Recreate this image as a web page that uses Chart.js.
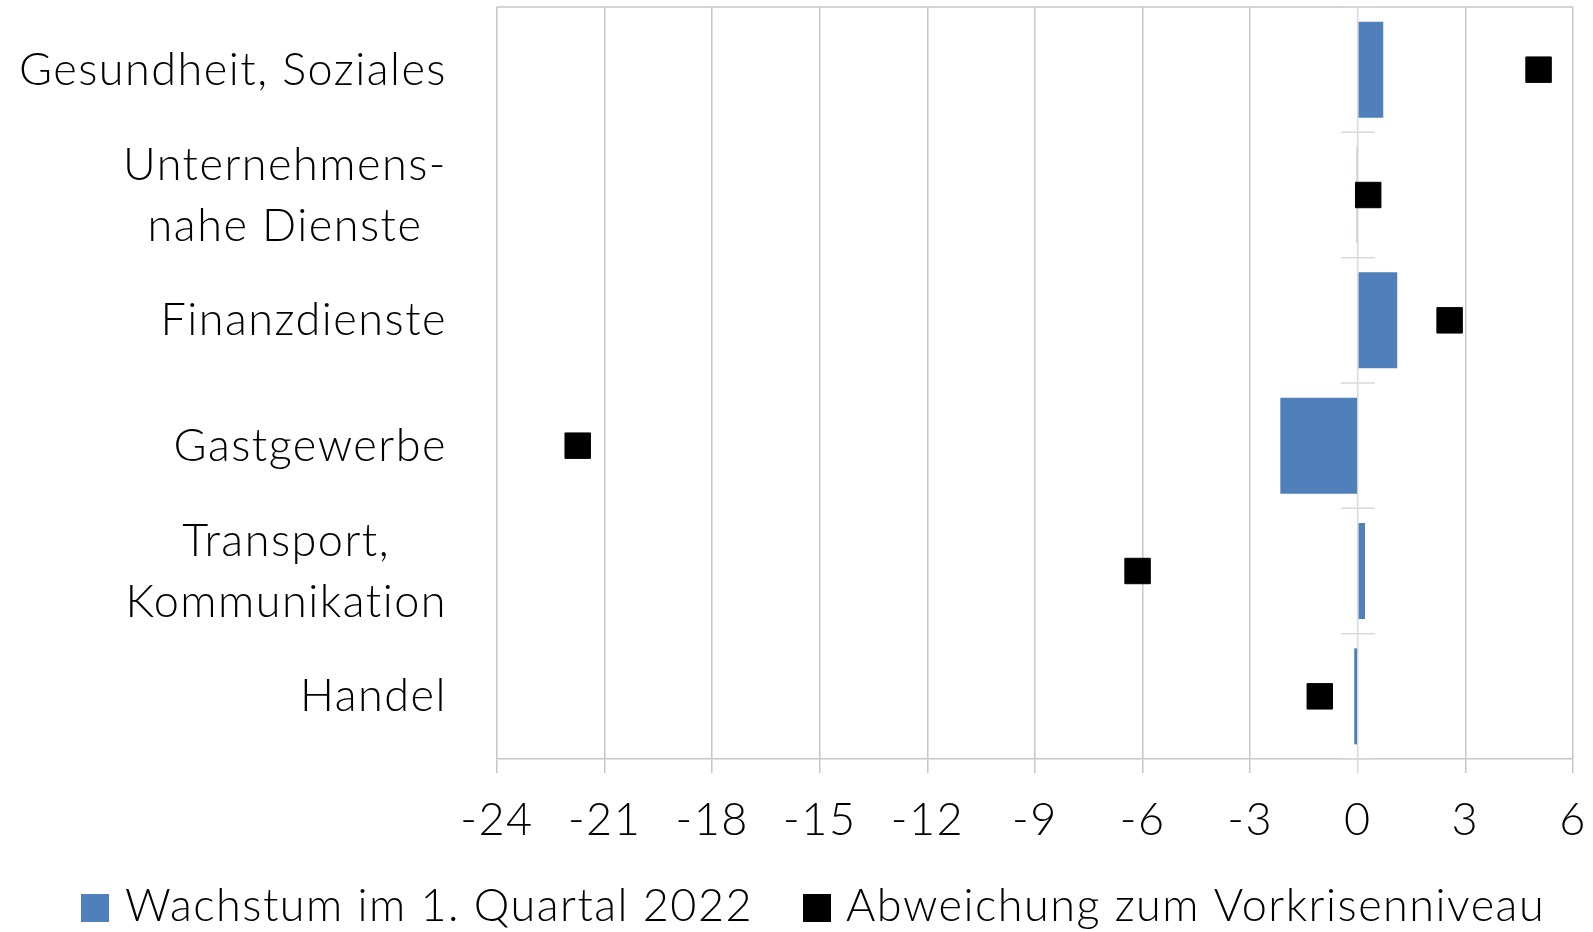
<!DOCTYPE html>
<html>
<head>
<meta charset="utf-8">
<script src="https://cdn.jsdelivr.net/npm/chart.js@4/dist/chart.umd.min.js"></script>
<style>
  html, body { margin: 0; padding: 0; background: #ffffff; }
  #wrap { width: 1593px; height: 932px; position: relative; }
</style>
</head>
<body>
<div id="wrap"><canvas id="c" width="1593" height="932"></canvas></div>
<script>
// ---- data ----
const categories = [
  'Gesundheit, Soziales',
  ['Unternehmens-', 'nahe Dienste'],
  'Finanzdienste',
  'Gastgewerbe',
  ['Transport,', 'Kommunikation'],
  'Handel'
];
const growthQ1 = [0.71, -0.03, 1.10, -2.16, 0.20, -0.10];
const deviationPreCrisis = [5.04, 0.29, 2.56, -21.75, -6.14, -1.06];
const seriesNames = ['Wachstum im 1. Quartal 2022', 'Abweichung zum Vorkrisenniveau'];
const xTicks = [-24, -21, -18, -15, -12, -9, -6, -3, 0, 3, 6];

// ---- style ----
const FONT_FAMILY = 'Lato, "Open Sans", sans-serif';
const FONT_SIZE = 45;
const FONT_WEIGHT = 300;
const LETTER_SPACING = '1.5px';
const GRID = '#c6c6c6';
const AXIS0 = '#d9d9d9';
const BAR_COLOR = '#4F80BC';
const MARK_COLOR = '#000000';

const spacing = {
  id: 'spacing',
  beforeUpdate(chart) { chart.ctx.letterSpacing = LETTER_SPACING; },
  beforeDraw(chart) { chart.ctx.letterSpacing = LETTER_SPACING; }
};

const overlay = {
  id: 'overlay',
  afterDraw(chart) {
    const ctx = chart.ctx;
    const area = chart.chartArea;
    const xs = chart.scales.x, ys = chart.scales.y;
    ctx.save();
    ctx.letterSpacing = LETTER_SPACING;
    // top border
    ctx.strokeStyle = GRID;
    ctx.lineWidth = 1.5;
    ctx.beginPath();
    ctx.moveTo(area.left, area.top);
    ctx.lineTo(area.right, area.top);
    ctx.stroke();
    // category tick marks crossing the zero axis
    const x0 = xs.getPixelForValue(0);
    ctx.strokeStyle = AXIS0;
    for (let i = 0; i <= categories.length; i++) {
      const y = ys.getPixelForValue(i - 0.5);
      ctx.beginPath();
      ctx.moveTo(x0 - 17, y);
      ctx.lineTo(x0 + 17, y);
      ctx.stroke();
    }
    // category labels (block right aligned, lines centred)
    ctx.fillStyle = '#000000';
    ctx.font = FONT_WEIGHT + ' ' + FONT_SIZE + 'px ' + FONT_FAMILY;
    ctx.textBaseline = 'alphabetic';
    ctx.textAlign = 'center';
    const right = area.left - 50;
    const lh = 61;
    categories.forEach((lab, i) => {
      const lines = Array.isArray(lab) ? lab : [lab];
      const w = Math.max(...lines.map(l => ctx.measureText(l).width));
      const cx = right - w / 2;
      const yc = ys.getPixelForValue(i);
      lines.forEach((l, k) => {
        const y = yc + 15 + (k - (lines.length - 1) / 2) * lh;
        ctx.fillText(l, cx, y);
      });
    });
    // legend
    const items = [
      { color: BAR_COLOR, boxX: 81, textX: 125 },
      { color: MARK_COLOR, boxX: 803, textX: 846 }
    ];
    ctx.textAlign = 'left';
    items.forEach((it, i) => {
      ctx.fillStyle = it.color;
      ctx.fillRect(it.boxX, 894, 28, 28);
      ctx.fillStyle = '#000000';
      ctx.fillText(seriesNames[i], it.textX, 921);
    });
    ctx.restore();
  }
};

new Chart(document.getElementById('c'), {
  type: 'bar',
  data: {
    labels: categories,
    datasets: [
      {
        label: seriesNames[0],
        data: growthQ1,
        backgroundColor: BAR_COLOR,
        borderWidth: 0,
        barPercentage: 0.766,
        categoryPercentage: 1.0,
        order: 1
      },
      {
        type: 'line',
        label: seriesNames[1],
        data: deviationPreCrisis,
        indexAxis: 'y',
        showLine: false,
        pointStyle: 'rect',
        pointRadius: 18,
        pointHoverRadius: 18,
        pointBorderWidth: 1,
        backgroundColor: MARK_COLOR,
        borderColor: MARK_COLOR,
        borderWidth: 1,
        order: 0
      }
    ]
  },
  options: {
    indexAxis: 'y',
    responsive: false,
    animation: false,
    devicePixelRatio: 1,
    layout: { autoPadding: false, padding: { top: 7, right: 20, bottom: 0, left: 0 } },
    plugins: {
      tooltip: { enabled: false },
      legend: { display: false }
    },
    scales: {
      x: {
        type: 'linear',
        min: xTicks[0],
        max: xTicks[xTicks.length - 1],
        afterBuildTicks: (scale) => { scale.ticks = xTicks.map(v => ({ value: v })); },
        ticks: {
          color: '#000000',
          font: { family: FONT_FAMILY, size: FONT_SIZE, weight: FONT_WEIGHT },
          padding: 20,
          maxRotation: 0,
          autoSkip: false
        },
        grid: {
          color: (c) => (c.tick && c.tick.value === 0) ? AXIS0 : GRID,
          lineWidth: 1.5,
          tickLength: 14,
          drawTicks: true
        },
        border: { display: true, color: GRID, width: 1.5 },
        afterFit: (scale) => {
          scale.height = 173;
          scale.paddingLeft = 0; scale.paddingRight = 0;
          scale.paddingTop = 0; scale.paddingBottom = 0;
        }
      },
      y: {
        type: 'category',
        offset: true,
        ticks: { display: false },
        grid: { display: false },
        border: { display: false },
        afterFit: (scale) => {
          scale.width = 497;
          scale.paddingTop = 0; scale.paddingBottom = 0;
          scale.paddingLeft = 0; scale.paddingRight = 0;
        }
      }
    }
  },
  plugins: [spacing, overlay]
});
</script>
</body>
</html>
